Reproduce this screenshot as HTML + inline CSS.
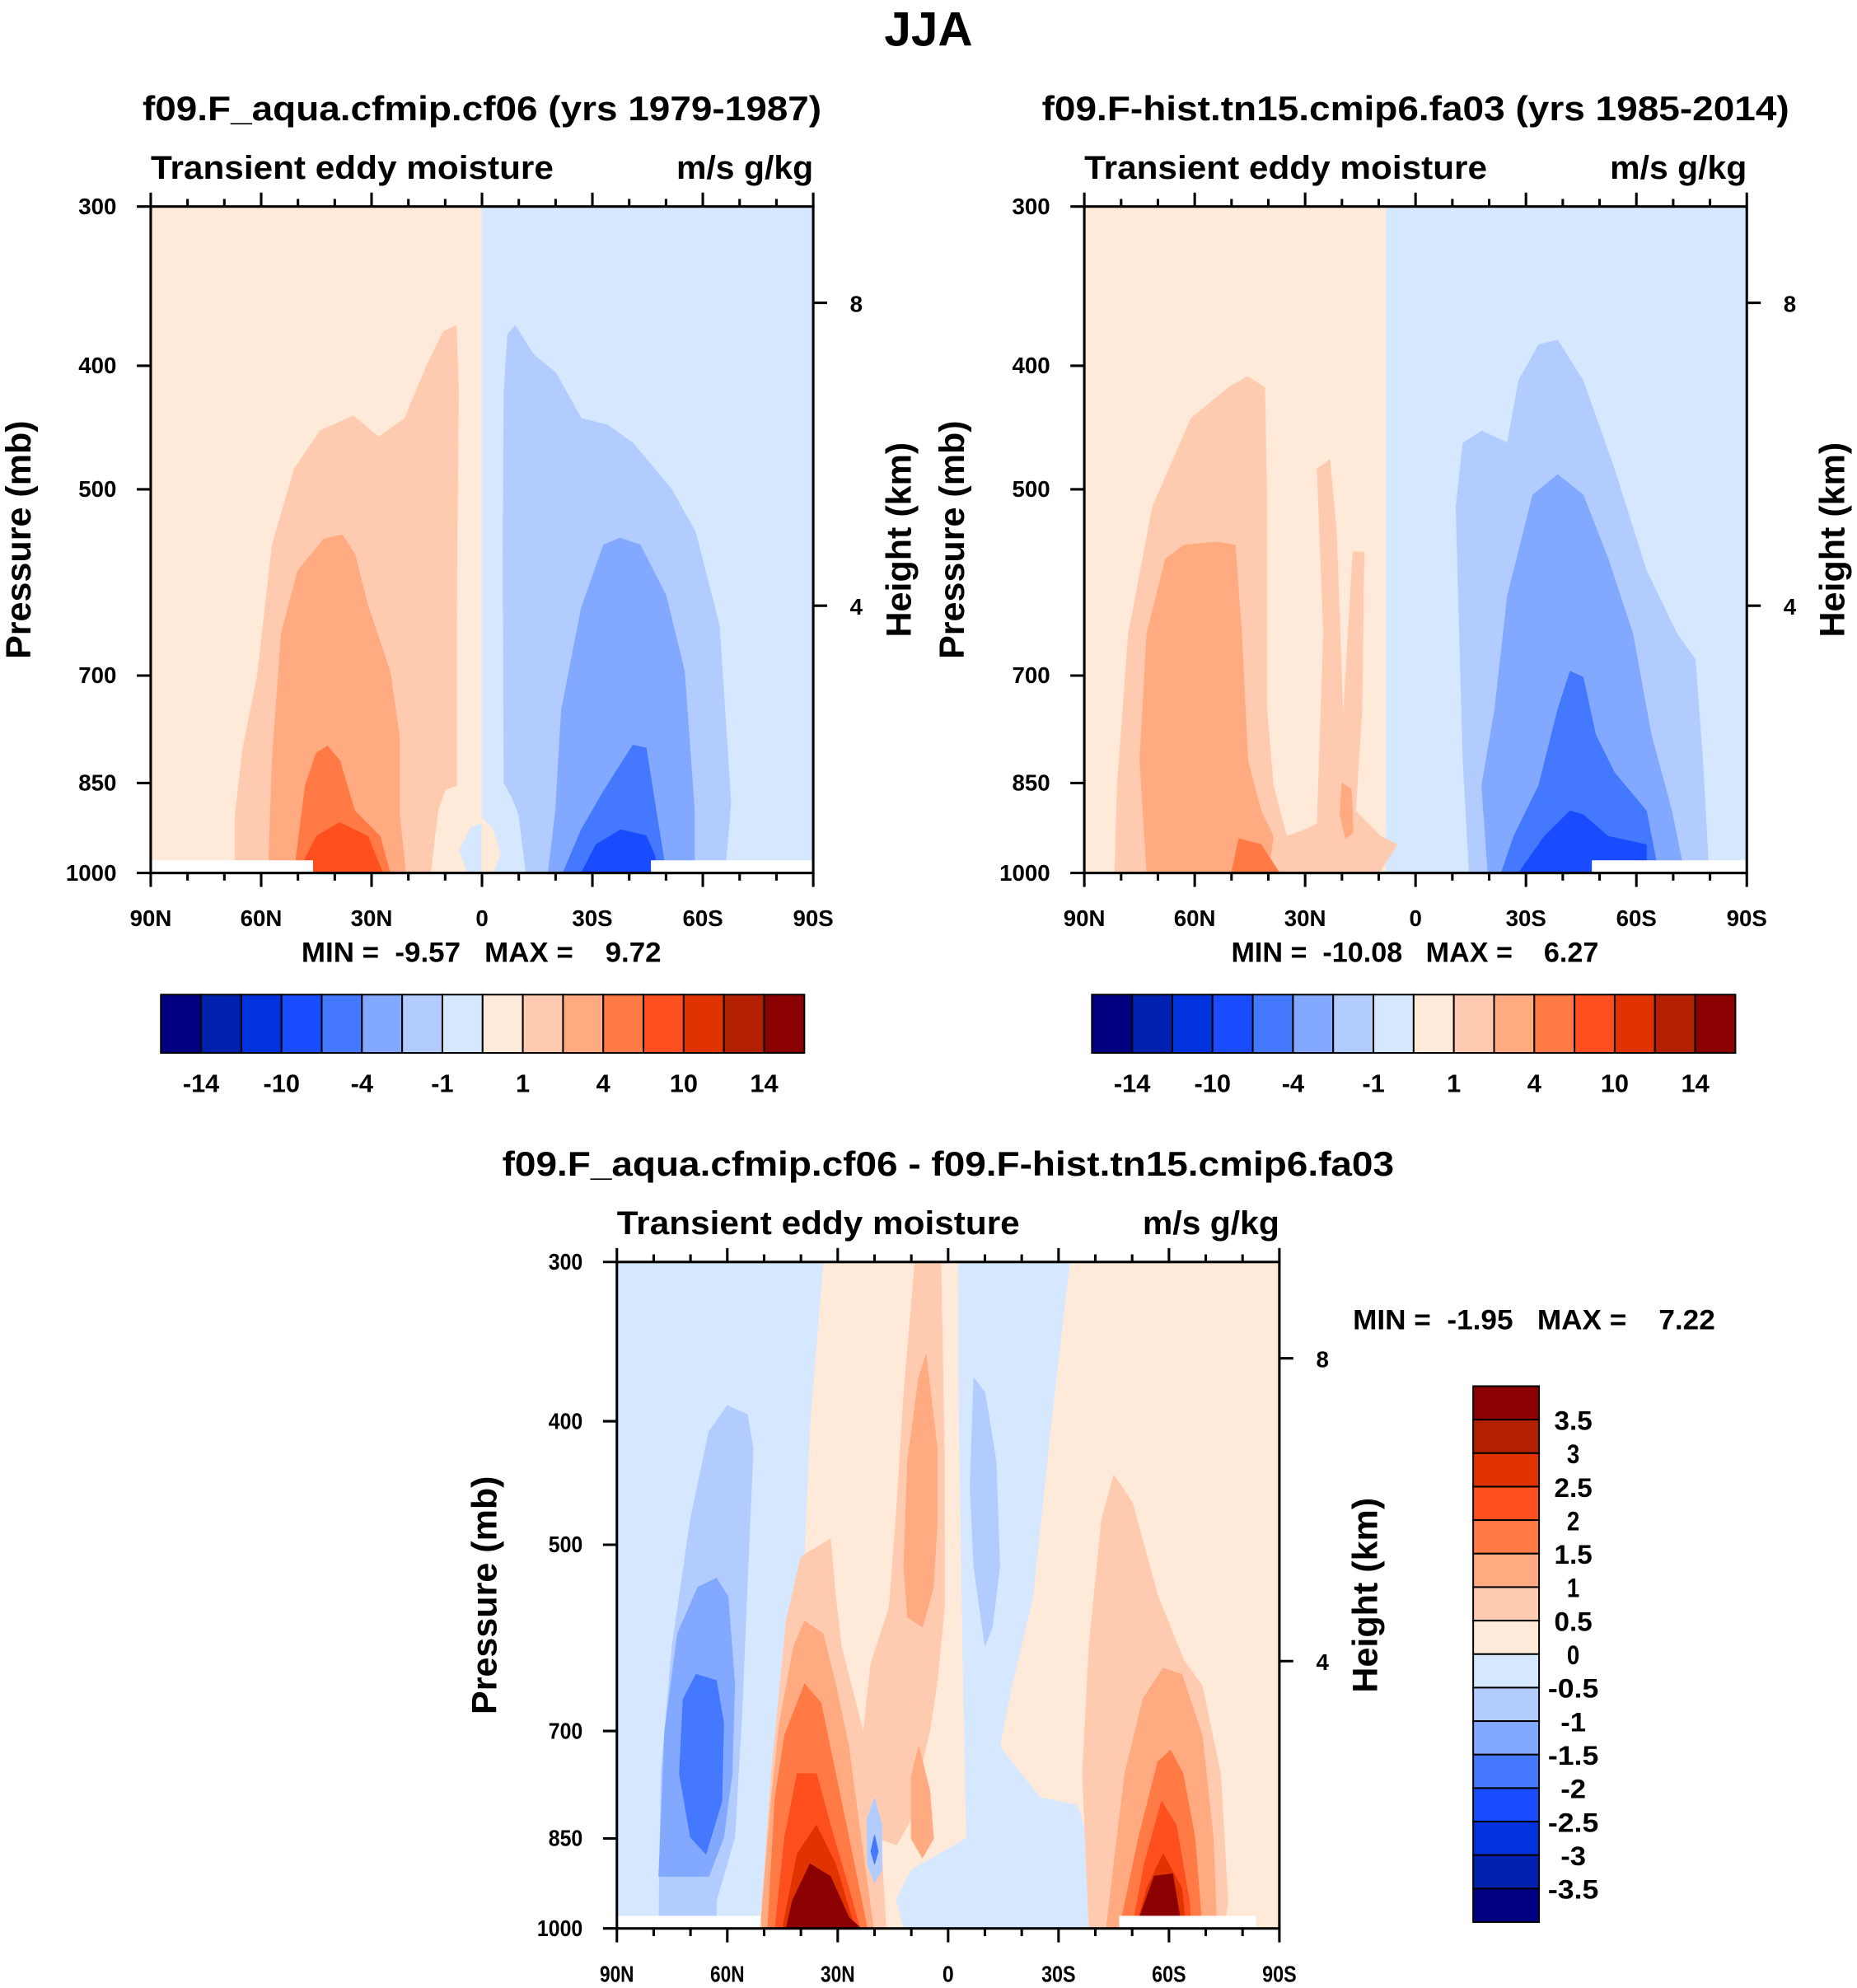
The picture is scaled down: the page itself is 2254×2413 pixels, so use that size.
<!DOCTYPE html>
<html><head><meta charset="utf-8"><title>JJA transient eddy moisture</title>
<style>html,body{margin:0;padding:0;background:#fff}svg{display:block}text{font-family:"Liberation Sans",sans-serif;font-weight:bold;fill:#000;white-space:pre}</style>
</head><body>
<svg id="fig" xmlns="http://www.w3.org/2000/svg" width="2254" height="2413" viewBox="0 0 1466 1569" preserveAspectRatio="none">
<text x="733" y="36" text-anchor="middle" font-size="38">JJA</text>
</svg>
<script>
// ---------- data ----------
const pressureTicks = [300, 400, 500, 700, 850, 1000];
const heightTicks = [8, 4];
const latTicks = [90, 60, 30, 0, -30, -60, -90];
const latTickLabels = ['90N', '60N', '30N', '0', '30S', '60S', '90S'];
const barColors = ['#000080','#0021B0','#0033DD','#1A4CFF','#4479FF','#83A8FF','#B3CCFF','#D6E8FF','#FFE9D8','#FFCBB0','#FFAA80','#FF7A45','#FF4F1E','#E03300','#B32000','#8B0000'];
const barLabelsAbs = ['-14','-10','-4','-1','1','4','10','14'];
const barLabelsDiff = ['3.5','3','2.5','2','1.5','1','0.5','0','-0.5','-1','-1.5','-2','-2.5','-3','-3.5'];
const stats1 = ['-9.57', '9.72'];
const stats2 = ['-10.08', '6.27'];
const stats3 = ['-1.95', '7.22'];

// contour fills: [colorIndex, [[lat, p], ...]]  (lat: + = N)
const panel1Fills = [
 [8, [[90,300],[0,300],[0,1000],[90,1000]]],
 [7, [[0,300],[-90,300],[-90,1000],[0,1000]]],
 [9, [[67,1000],[67,900],[65,800],[61,700],[57,553],[51,482],[44,450],[35,438],[28,455],[21,440],[15,400],[10.5,376],[7,372],[6.4,420],[6.8,560],[7,690],[7,854],[10,860],[12,894],[14,1000]]],
 [10,[[58,1000],[57,816],[54.5,649],[50,579],[43,547],[38,543],[34.6,562],[31,617],[25,695],[22.5,779],[22.5,894],[20.8,1000]]],
 [11,[[51,1000],[48,854],[45,805],[42,795],[38.7,816],[34.6,894],[27.7,936],[25,1000]]],
 [12,[[50,1000],[45,936],[38.7,913],[31,936],[27,1000]]],
 [7, [[4,1000],[6,960],[3,920],[0,915],[0,1000]]],
 [8, [[0,905],[-3,925],[-5,965],[-3,1000],[0,1000]]],
 [6, [[-12,1000],[-10,900],[-8,870],[-6,850],[-5.7,560],[-6,420],[-7,378],[-9,372],[-14,392],[-20,405],[-27,440],[-34,445],[-41,460],[-51.5,500],[-58,540],[-64.5,640],[-67.6,880],[-66,1000]]],
 [5, [[-18,1000],[-20,894],[-21.6,745],[-27,620],[-33,553],[-37.5,546],[-43,553],[-50,606],[-55,695],[-57.7,894],[-57.7,1000]]],
 [4, [[-22,1000],[-27,925],[-33,863],[-41,794],[-44.6,798],[-47.3,894],[-50,1000]]],
 [3, [[-27,1000],[-31,950],[-37.7,925],[-44.6,935],[-47,970],[-47,1000]]],
 [-1,[[90,978],[46,978],[46,1000],[90,1000]]],
 [-1,[[-46,978],[-90,978],[-90,1000],[-46,1000]]]
];
const panel2Fills = [
 [8, [[90,300],[8,300],[8,1000],[90,1000]]],
 [7, [[8,300],[-90,300],[-90,1000],[8,1000]]],
 [9, [[81.7,1000],[81,854],[78,649],[71.4,516],[61,440],[50.8,416],[45.6,408],[41,416],[40.4,516],[40.4,745],[38.7,854],[35,936],[30,925],[26.7,915],[25,649],[26.7,482],[23.3,474],[21.5,540],[19.7,760],[17,560],[14,560],[14.6,745],[16.3,894],[9.5,936],[5,950],[10,1000]]],
 [10,[[73,1000],[74.9,816],[73,649],[67.9,567],[62.8,553],[54.2,550],[49,553],[47.3,649],[45.6,816],[42,894],[38.7,936],[40,1000]]],
 [10,[[20,850],[17.5,860],[17,930],[19,940],[20.5,900]]],
 [11,[[50,1000],[48,940],[42,950],[37,1000]]],
 [6, [[-14.6,1000],[-12.9,816],[-11,516],[-12.9,460],[-18,450],[-25,460],[-28,411],[-33.5,385],[-38.6,382],[-45.5,411],[-54,482],[-62.7,579],[-71,649],[-76,680],[-78,816],[-79.7,1000]]],
 [5, [[-19.7,1000],[-18,854],[-21.5,745],[-25,606],[-31.9,505],[-38.6,487],[-45.5,505],[-52.3,567],[-59,649],[-64,779],[-69.6,894],[-73,1000]]],
 [4, [[-23.3,1000],[-26.7,936],[-33.5,854],[-38.6,745],[-42,695],[-45.5,702],[-48.9,779],[-54,834],[-62.7,894],[-66,1000]]],
 [3, [[-28,1000],[-35,936],[-42,894],[-45.5,900],[-52.3,936],[-62.7,950],[-62.7,1000]]],
 [-1,[[-48,978],[-90,978],[-90,1000],[-48,1000]]]
];
const panel3Fills = [
 [8, [[90,300],[-90,300],[-90,1000],[90,1000]]],
 [7, [[90,300],[34,300],[37.5,400],[39,500],[40,600],[44,750],[48,880],[52,1000],[90,1000]]],
 [7, [[-2.8,300],[-33,300],[-28,400],[-23,550],[-17,650],[-14,720],[-25,790],[-35,800],[-38,850],[-40,950],[-40,1000],[12,1000],[14,950],[10,900],[-5,850],[-4,600],[-3,400]]],
 [6, [[78.6,1000],[78,756],[75,601],[70,478],[65,408],[60,389],[54.6,395],[53,420],[54.6,537],[56,674],[58,848],[63,951],[63,1000]]],
 [5, [[78.6,910],[77,700],[73.5,587],[68,540],[63,531],[59.8,549],[58,643],[58.7,756],[61,848],[65,910]]],
 [4, [[73,756],[72,661],[68.5,632],[63,639],[61,690],[61.5,795],[65.8,874],[70,848]]],
 [9, [[51,1000],[48,756],[44,574],[40,511],[32,495],[30.6,549],[29,601],[23.7,690],[20.3,756],[18,880],[16.9,1000]]],
 [10,[[51,1000],[48,790],[45.8,690],[42,601],[39,574],[34,587],[30.6,643],[27,720],[23.7,848],[20.3,1000]]],
 [11,[[49,1000],[47,790],[44.4,705],[39,643],[34.6,665],[30.6,756],[27,848],[22,1000]]],
 [12,[[47,1000],[44.4,848],[41,756],[35.8,756],[32,830],[27,930],[24,1000]]],
 [13,[[45,1000],[41,874],[35.8,830],[30.6,890],[25.4,1000]]],
 [15,[[44,1000],[42.3,951],[37.5,890],[32,910],[27,980],[23.7,1000]]],
 [9, [[9,300],[2,300],[1,430],[1,560],[3,640],[5,700],[8,760],[10,820],[14,860],[19,850],[22,790],[23,700],[21,620],[16,560],[14,470],[12,380]]],
 [10,[[6,355],[3,420],[3,480],[4,540],[7,580],[11,570],[12,520],[11,430],[8,370]]],
 [10,[[8,720],[5,780],[4,850],[7,880],[10,850],[10,760]]],
 [6, [[-7,370],[-6,450],[-7,520],[-10,600],[-12,580],[-14,520],[-13,430],[-10,380]]],
 [6, [[20,790],[18,830],[18,900],[20,920],[22,890],[22,820]]],
 [4, [[20,845],[19,870],[20,890],[21,870]]],
 [9, [[-38.3,1000],[-36.5,756],[-38.3,601],[-41.7,478],[-45,441],[-50,463],[-57,549],[-64,616],[-69,645],[-74,756],[-76,951],[-75,1000]]],
 [10,[[-43,1000],[-48,756],[-53,660],[-58.4,625],[-63.5,632],[-69,705],[-72,848],[-73,1000]]],
 [11,[[-46.6,1000],[-51.8,848],[-57,740],[-60.4,725],[-63.8,756],[-67,848],[-69,1000]]],
 [12,[[-50,1000],[-53.3,890],[-58,795],[-62,830],[-65.5,951],[-66,1000]]],
 [13,[[-51,1000],[-54,930],[-58.4,874],[-63.5,930],[-64.5,1000]]],
 [15,[[-52,980],[-56,910],[-61,906],[-63,980],[-62,1000],[-53,1000]]],
 [-1,[[90,978],[51,978],[51,1000],[90,1000]]],
 [-1,[[-46.6,978],[-83.6,978],[-83.6,1000],[-46.6,1000]]]
];

// ---------- drawing ----------
const NS = 'http://www.w3.org/2000/svg';
const svg = document.getElementById('fig');
function mk(tag, attrs, parent) {
  const e = document.createElementNS(NS, tag);
  for (const k in attrs) e.setAttribute(k, attrs[k]);
  (parent || svg).appendChild(e);
  return e;
}
function txt(s, x, y, size, anchor, parent, extra) {
  const t = mk('text', Object.assign({x: x, y: y, 'font-size': size, 'text-anchor': anchor || 'start'}, extra || {}), parent);
  t.textContent = s;
  return t;
}

function panel(name, x0, y0, fills, title, titleLen, condensed, stats, statsPos) {
  const W = 523, H = 526;
  const g = mk('g', {});
  
  
  const xs = lat => x0 + (90 - lat) / 180 * W;
  const ys = p => y0 + Math.log(p / 300) / Math.log(1000 / 300) * H;
  const hs = h => y0 + H * (0.1445 + (8 - h) * 0.1136);
  const clip = mk('clipPath', {id: name + '-clip'}, g);
  mk('rect', {x: x0, y: y0, width: W, height: H}, clip);
  const area = mk('g', {'clip-path': 'url(#' + name + '-clip)'}, g);
  
  
  fills.forEach(f => {
    const col = f[0] < 0 ? '#FFFFFF' : barColors[f[0]];
    const pts = f[1].map(q => xs(q[0]).toFixed(1) + ',' + ys(q[1]).toFixed(1)).join(' ');
    const poly = mk('polygon', {points: pts, fill: col, stroke: col, 'stroke-width': 0.6, 'stroke-linejoin': 'round'}, area);
    
    
  });
  const frame = mk('rect', {x: x0, y: y0, width: W, height: H, fill: 'none', stroke: '#000', 'stroke-width': 2}, g);
  
  
  for (let lat = 90; lat >= -90; lat -= 10) {
    const major = lat % 30 === 0;
    const L = major ? 11 : 6;
    mk('line', {x1: xs(lat), x2: xs(lat), y1: y0 + H, y2: y0 + H + L, stroke: '#000', 'stroke-width': 2}, g);
    mk('line', {x1: xs(lat), x2: xs(lat), y1: y0, y2: y0 - L, stroke: '#000', 'stroke-width': 2}, g);
  }
  latTicks.forEach((lat, i) => {
    const t = txt(latTickLabels[i], xs(lat), y0 + H + 42, 18, 'middle', g, condensed ? {textLength: latTickLabels[i].length * 9, lengthAdjust: 'spacingAndGlyphs'} : {});
    
    
  });
  pressureTicks.forEach(p => {
    mk('line', {x1: x0 - 11, x2: x0, y1: ys(p), y2: ys(p), stroke: '#000', 'stroke-width': 2}, g);
    const t = txt(String(p), x0 - 27, ys(p) + 6, 18, 'end', g, condensed ? {textLength: String(p).length * 9, lengthAdjust: 'spacingAndGlyphs'} : {});
    
    
  });
  heightTicks.forEach(h => {
    mk('line', {x1: x0 + W, x2: x0 + W + 11, y1: hs(h), y2: hs(h), stroke: '#000', 'stroke-width': 2}, g);
    const t = txt(String(h), x0 + W + 34, hs(h) + 7, 18, 'middle', g);
    
    
  });
  const ya = txt('Pressure (mb)', 0, 0, 28, 'middle', g, {transform: 'translate(' + (x0 - 95) + ',' + (y0 + 263) + ') rotate(-90)'});
  
  
  const yb = txt('Height (km)', 0, 0, 28, 'middle', g, {transform: 'translate(' + (x0 + W + 77) + ',' + (y0 + 263) + ') rotate(-90)'});
  
  
  const lt = txt('Transient eddy moisture', x0, y0 - 22, 26, 'start', g, {textLength: 318, lengthAdjust: 'spacingAndGlyphs'});
  
  
  const rt = txt('m/s g/kg', x0 + W, y0 - 22, 26, 'end', g, {textLength: 108, lengthAdjust: 'spacingAndGlyphs'});
  
  
  const tt = txt(title, x0 + W / 2, y0 - 68, 27, 'middle', g, {textLength: titleLen, lengthAdjust: 'spacingAndGlyphs'});
  
  
  const st = txt('MIN =  ' + stats[0] + '   MAX =    ' + stats[1], statsPos[0], statsPos[1], 22, statsPos[2], g, {textLength: statsPos[3], lengthAdjust: 'spacingAndGlyphs'});
  
  
}

function hbar(name, x0, y0) {
  const g = mk('g', {});
  
  
  const w = 508 / barColors.length;
  barColors.forEach((c, i) => {
    const r = mk('rect', {x: x0 + i * w, y: y0, width: w, height: 46, fill: c, stroke: '#000', 'stroke-width': 1.3}, g);
    
    
  });
  barLabelsAbs.forEach((l, i) => {
    const t = txt(l, x0 + (2 * i + 1) * w, y0 + 77, 20, 'middle', g);
    
    
  });
}

function vbar(name, x0, y0) {
  const g = mk('g', {});
  
  
  const h = 423 / barColors.length;
  barColors.slice().reverse().forEach((c, i) => {
    const r = mk('rect', {x: x0, y: y0 + i * h, width: 52, height: h, fill: c, stroke: '#000', 'stroke-width': 1.3}, g);
    
    
  });
  barLabelsDiff.forEach((l, i) => {
    const t = txt(l, x0 + 79, y0 + (i + 1) * h + 8, 21, 'middle', g, {textLength: l.length * 10, lengthAdjust: 'spacingAndGlyphs'});
    
    
  });
}

panel('panel-aqua', 119, 163, panel1Fills, 'f09.F_aqua.cfmip.cf06 (yrs 1979-1987)', 536, false, stats1, [380, 759, 'middle', 284]);
panel('panel-hist', 856, 163, panel2Fills, 'f09.F-hist.tn15.cmip6.fa03 (yrs 1985-2014)', 590, false, stats2, [1117, 759, 'middle', 290]);
panel('panel-difference', 487, 996, panel3Fills, 'f09.F_aqua.cfmip.cf06 - f09.F-hist.tn15.cmip6.fa03', 704, true, stats3, [1068, 1049, 'start', 286]);
hbar('colorbar-aqua', 127, 785);
hbar('colorbar-hist', 862, 785);
vbar('colorbar-difference', 1163, 1094);
</script>
</body></html>
